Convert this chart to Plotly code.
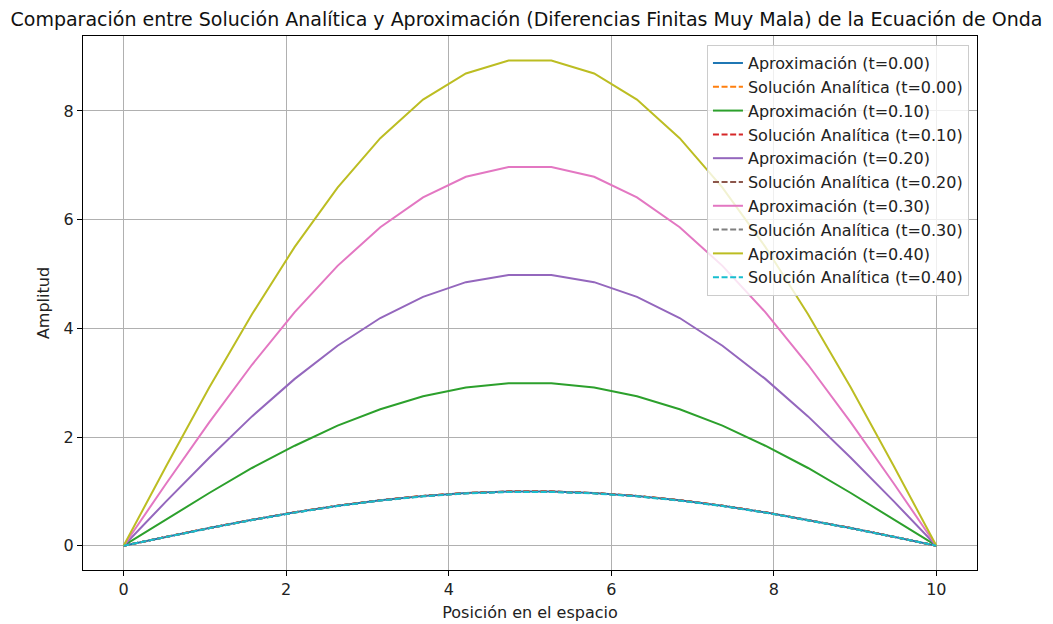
import plotly.graph_objects as go

x_pos = [0.0, 0.526, 1.053, 1.579, 2.105, 2.632, 3.158, 3.684, 4.211, 4.737,
         5.263, 5.789, 6.316, 6.842, 7.368, 7.895, 8.421, 8.947, 9.474, 10.0]

times = ["0.00", "0.10", "0.20", "0.30", "0.40"]

approx_t000 = [0.0, 0.165, 0.325, 0.476, 0.614, 0.736, 0.837, 0.916, 0.969, 0.997,
               0.997, 0.969, 0.916, 0.837, 0.736, 0.614, 0.476, 0.325, 0.165, 0.0]
approx_t010 = [0.0, 0.49, 0.97, 1.43, 1.84, 2.21, 2.51, 2.75, 2.91, 2.99,
               2.99, 2.91, 2.75, 2.51, 2.21, 1.84, 1.43, 0.97, 0.49, 0.0]
approx_t020 = [0.0, 0.82, 1.62, 2.38, 3.07, 3.68, 4.19, 4.58, 4.85, 4.98,
               4.98, 4.85, 4.58, 4.19, 3.68, 3.07, 2.38, 1.62, 0.82, 0.0]
approx_t030 = [0.0, 1.15, 2.27, 3.33, 4.30, 5.15, 5.86, 6.41, 6.79, 6.97,
               6.97, 6.79, 6.41, 5.86, 5.15, 4.30, 3.33, 2.27, 1.15, 0.0]
approx_t040 = [0.0, 1.47, 2.91, 4.26, 5.50, 6.59, 7.50, 8.21, 8.69, 8.93,
               8.93, 8.69, 8.21, 7.50, 6.59, 5.50, 4.26, 2.91, 1.47, 0.0]

exact_t000 = [0.0, 0.165, 0.325, 0.476, 0.614, 0.736, 0.837, 0.916, 0.969, 0.997,
              0.997, 0.969, 0.916, 0.837, 0.736, 0.614, 0.476, 0.325, 0.165, 0.0]
exact_t010 = [0.0, 0.165, 0.325, 0.476, 0.614, 0.736, 0.837, 0.915, 0.969, 0.996,
              0.996, 0.969, 0.915, 0.837, 0.736, 0.614, 0.476, 0.325, 0.165, 0.0]
exact_t020 = [0.0, 0.164, 0.324, 0.475, 0.613, 0.734, 0.835, 0.914, 0.967, 0.995,
              0.995, 0.967, 0.914, 0.835, 0.734, 0.613, 0.475, 0.324, 0.164, 0.0]
exact_t030 = [0.0, 0.164, 0.323, 0.474, 0.611, 0.733, 0.834, 0.912, 0.965, 0.993,
              0.993, 0.965, 0.912, 0.834, 0.733, 0.611, 0.474, 0.323, 0.164, 0.0]
exact_t040 = [0.0, 0.163, 0.322, 0.472, 0.609, 0.730, 0.830, 0.908, 0.962, 0.989,
              0.989, 0.962, 0.908, 0.830, 0.730, 0.609, 0.472, 0.322, 0.163, 0.0]

approx_all = [approx_t000, approx_t010, approx_t020, approx_t030, approx_t040]
exact_all = [exact_t000, exact_t010, exact_t020, exact_t030, exact_t040]

approx_colors = ["#1f77b4", "#2ca02c", "#9467bd", "#e377c2", "#bcbd22"]
exact_colors = ["#ff7f0e", "#d62728", "#8c564b", "#7f7f7f", "#17becf"]

FONT = "DejaVu Sans"

fig = go.Figure()
for i, t in enumerate(times):
    fig.add_trace(go.Scatter(
        x=x_pos, y=approx_all[i], mode="lines",
        name=f"Aproximación (t={t})", legendgroup=f"a{i}",
        line=dict(color=approx_colors[i], width=2),
    ))
    fig.add_trace(go.Scatter(
        x=x_pos, y=exact_all[i], mode="lines",
        name=f"Solución Analítica (t={t})", legendgroup=f"e{i}",
        line=dict(color=exact_colors[i], width=2, dash="6px,2.6px"),
    ))

axis_common = dict(
    showline=True, linecolor="black", linewidth=1, mirror=True,
    ticks="outside", ticklen=5, tickcolor="black", tickwidth=1,
    showgrid=True, gridcolor="#b0b0b0", gridwidth=1, zeroline=False,
    tickfont=dict(family=FONT, size=16, color="#222"),
    title_font=dict(family=FONT, size=16, color="#222"),
    automargin=False,
)

fig.update_layout(
    width=1053, height=624,
    margin=dict(l=83, r=76, t=36, b=54),
    paper_bgcolor="white", plot_bgcolor="white",
    font=dict(family=FONT, size=16, color="#222"),
    title=dict(
        text="Comparación entre Solución Analítica y Aproximación (Diferencias Finitas Muy Mala) de la Ecuación de Onda",
        x=0.5, xref="container", xanchor="center",
        y=1 - 19 / 624, yref="container", yanchor="middle",
        font=dict(family=FONT, size=19, color="#111"),
    ),
    xaxis=dict(range=[-0.5, 10.5], dtick=2, tick0=0,
               title=dict(text="Posición en el espacio", standoff=8), **axis_common),
    yaxis=dict(range=[-0.447, 9.38], dtick=2, tick0=0,
               title=dict(text="Amplitud", standoff=10), **axis_common),
    legend=dict(
        x=0.991, y=0.983, xanchor="right", yanchor="top",
        bgcolor="rgba(255,255,255,0.8)", bordercolor="#cccccc", borderwidth=1,
        font=dict(family=FONT, size=16, color="#222"),
        tracegroupgap=0,
    ),
    showlegend=True,
)

fig.write_html("out.html")
